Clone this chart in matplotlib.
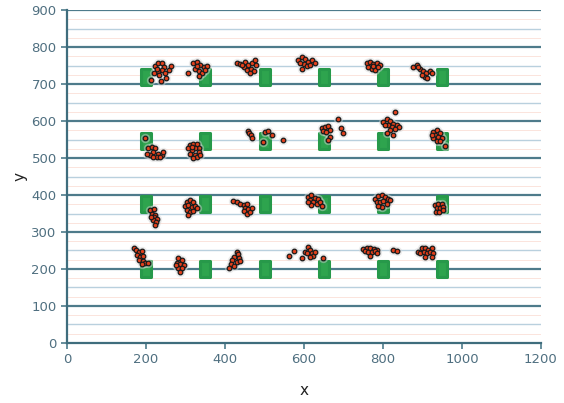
import numpy as np
import matplotlib
matplotlib.use('Agg')
import matplotlib.pyplot as plt
from matplotlib.markers import MarkerStyle
from matplotlib.transforms import Affine2D

# green target markers
target_x = [200, 350, 500, 650, 800, 950]
target_y = [200, 375, 545, 720]

# red point clusters, row by row (top to bottom)
row1 = [(222,748),(231,756),(241,757),(246,747),(240,738),(229,736),(220,729),(234,724),
        (248,731),(257,739),(263,748),(212,712),(237,709),(251,715),(228,742),
        (305,731),(320,756),(329,760),(337,751),(346,747),(354,749),(324,742),(333,736),
        (341,729),(350,738),(335,722),(328,748),
        (430,758),(438,754),(451,760),(459,751),(468,756),(476,765),(479,751),(447,747),
        (455,738),(465,742),(474,736),(462,731),(442,751),
        (586,765),(594,774),(603,767),(611,760),(620,765),(628,758),(599,754),(607,749),
        (594,742),(590,756),(615,751),
        (759,758),(767,760),(775,754),(784,756),(793,751),(763,747),(771,742),(780,739),
        (788,745),(775,749),
        (877,747),(886,751),(894,742),(901,736),(909,729),(918,736),(924,731),(907,720),
        (898,724),(912,715),(890,745)]
row2 = [(198,553),(206,528),(214,531),(223,526),(231,512),(240,509),(218,517),(210,508),
        (227,503),(236,503),(202,512),(218,503),(244,517),
        (311,535),(320,539),(329,537),(333,528),(324,526),(316,522),(307,526),(311,512),
        (324,509),(333,517),(329,503),(320,501),(316,531),(337,508),
        (457,573),(461,567),(465,561),(468,553),(497,544),(501,571),(510,573),(518,561),(546,550),
        (645,580),(653,584),(662,587),(666,576),(649,573),(657,571),(687,605),(693,580),
        (698,569),(666,558),(662,549),
        (830,625),(801,597),(809,605),(818,601),(826,592),(835,588),(841,584),(813,588),
        (822,584),(830,578),(805,590),(818,576),(826,562),(809,567),
        (928,571),(936,575),(945,569),(932,562),(940,558),(949,553),(928,553),(936,547),
        (945,545),(957,532),(924,562)]
row3 = [(210,359),(219,362),(215,350),(223,347),(219,341),(227,336),(217,332),(225,327),
        (223,320),(212,341),
        (303,382),(312,386),(320,382),(299,371),(307,373),(316,368),(324,371),(303,359),
        (312,355),(320,357),(307,346),(329,364),
        (421,384),(430,382),(438,377),(447,373),(455,375),(451,364),(459,362),(447,357),
        (455,350),(464,355),(468,364),
        (611,395),(619,400),(628,393),(636,389),(615,386),(624,382),(632,377),(641,382),
        (645,371),(619,373),(611,380),
        (780,389),(788,396),(797,400),(805,395),(814,389),(784,382),(793,380),(801,384),
        (810,377),(818,386),(797,368),(788,371),
        (932,373),(940,377),(949,375),(936,364),(945,366),(953,368),(934,355),(943,353),(951,359)]
row4 = [(170,258),(175,251),(181,247),(189,249),(176,238),(185,233),(191,236),(183,224),
        (193,222),(197,215),(206,215),(189,213),
        (282,229),(291,224),(278,215),(287,213),(295,211),(282,204),(291,202),(287,193),(276,211),
        (430,247),(434,240),(422,233),(436,231),(418,224),(430,220),(439,222),(414,213),
        (422,209),(410,204),
        (563,236),(575,249),(594,229),(603,247),(611,260),(615,251),(607,242),(620,242),
        (624,236),(614,233),(628,247),(649,231),
        (749,254),(759,256),(767,258),(777,254),(785,251),(755,249),(763,245),(771,247),
        (780,249),(767,236),(784,242),(826,251),(836,249),
        (890,247),(898,256),(907,258),(915,251),(924,256),(894,242),(903,247),(911,242),
        (920,245),(928,242),(907,233),(924,233)]

pts = np.array(row1 + row2 + row3 + row4)
tx, ty = np.meshgrid(target_x, target_y)

fig = plt.figure(figsize=(5.64, 4.03), dpi=100)
ax = fig.add_axes([0.119, 0.149, 0.840, 0.826])

ax.set_xlim(0, 1200)
ax.set_ylim(0, 900)

# grid lines: faint pink, light blue minor, dark major
for yv in np.arange(25, 900, 50):
    ax.axhline(yv, color='#fbe4dc', lw=0.7, zorder=0)
for yv in np.arange(50, 900, 100):
    ax.axhline(yv, color='#b9d0de', lw=1.0, zorder=0.5)
for yv in np.arange(100, 901, 100):
    ax.axhline(yv, color='#4e7b8b', lw=1.6, zorder=0.6)

# green targets (rounded pill shape)
pill = MarkerStyle('s', transform=Affine2D().scale(0.6, 1.0), joinstyle='round')
ax.plot(tx.ravel(), ty.ravel(), linestyle='none', marker=pill, markersize=11,
        markerfacecolor='#2ea44e', markeredgecolor='#27994a', markeredgewidth=2.2,
        zorder=2)

# red points with a faint grey halo
ax.scatter(pts[:, 0], pts[:, 1], s=45, color='#d8d8d8', alpha=0.45, lw=0, zorder=2.5)
ax.scatter(pts[:, 0], pts[:, 1], s=11, c='#e2401c', edgecolors='#1a1a1a',
           linewidths=0.9, zorder=3)

ax.set_xticks(np.arange(0, 1201, 200))
ax.set_yticks(np.arange(0, 901, 100))
ax.tick_params(colors='#4e7b8b', labelcolor='#4f6f80', labelsize=9.5,
               length=4, width=1.2, direction='out')

for s in ['top', 'right']:
    ax.spines[s].set_visible(False)
for s in ['left', 'bottom']:
    ax.spines[s].set_color('#3f6d7d')
    ax.spines[s].set_linewidth(1.6)

ax.set_xlabel('x', fontsize=11, color='#222222', labelpad=12)
ax.set_ylabel('y', fontsize=11, color='#222222', labelpad=3)

fig.savefig('out.png', dpi=100, facecolor='white')
